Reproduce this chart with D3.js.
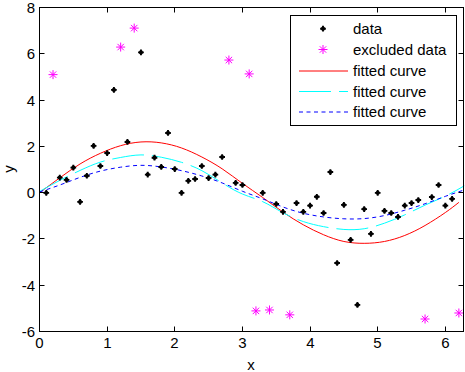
<!DOCTYPE html>
<html>
<head>
<meta charset="utf-8">
<script src="https://cdn.jsdelivr.net/npm/d3@7"></script>
<style>
  body { margin: 0; background: #fff; }
  text { font-family: "Liberation Sans", Arial, sans-serif; }
</style>
</head>
<body>
<script>
// data points that were used in the fit
let dataX = [0.1, 0.3, 0.4, 0.5, 0.6, 0.7, 0.8, 0.9, 1.0, 1.1, 1.3, 1.5, 1.6, 1.7, 1.8, 1.9, 2.0,
  2.1, 2.2, 2.3, 2.4, 2.5, 2.6, 2.7, 2.9, 3.0, 3.3, 3.5, 3.6, 3.8, 3.9, 4.0, 4.1, 4.2, 4.3,
  4.4, 4.5, 4.6, 4.7, 4.8, 4.9, 5.0, 5.1, 5.2, 5.3, 5.4, 5.5, 5.6, 5.8, 5.9, 6.0, 6.1];
let dataY = [-0.01, 0.65, 0.55, 1.08, -0.40, 0.73, 2.02, 1.15, 1.71, 4.44, 2.19, 6.06, 0.78, 1.51, 1.11, 2.58, 1.02,
  -0.01, 0.51, 0.59, 1.15, 0.63, 0.78, 1.54, 0.42, 0.33, -0.01, -0.49, -0.83, -0.45, -0.83, -0.56, -0.18, -0.88, 0.89,
  -3.04, -0.53, -2.04, -4.85, -0.71, -1.78, -0.01, -0.79, -0.88, -1.05, -0.56, -0.45, -0.32, -0.19, 0.33, -0.56, -0.27];

// outliers (excluded)
let exclX = [0.2, 1.2, 1.4, 2.8, 3.1, 3.2, 3.4, 3.7, 5.7, 6.2];
let exclY = [5.10, 6.29, 7.11, 5.73, 5.13, -5.11, -5.07, -5.28, -5.46, -5.20];

// fitted curves
let redX = [0, 0.3, 0.6, 0.9, 1.2, 1.5, 1.8, 2.1, 2.4, 2.7, 3.0, 3.3, 3.6, 3.9, 4.2, 4.5, 4.8, 5.1, 5.4, 5.7, 6.0, 6.2];
let redY = [0, 0.64, 1.24, 1.70, 2.03, 2.19, 2.15, 1.93, 1.54, 1.03, 0.40, -0.21, -0.84, -1.39, -1.82, -2.11, -2.19, -2.11, -1.85, -1.42, -0.86, -0.42];
let fitX = [0, 0.3, 0.6, 0.9, 1.2, 1.5, 1.8, 2.1, 2.4, 2.7, 3.0, 3.3, 3.6, 3.9, 4.2, 4.5, 4.8, 5.1, 5.4, 5.7, 6.0, 6.2832];
let cyanY = [0.05, 0.53, 0.96, 1.32, 1.52, 1.63, 1.53, 1.31, 0.95, 0.42, -0.06, -0.39, -0.87, -1.25, -1.47, -1.59, -1.56, -1.32, -0.96, -0.54, -0.15, 0.30];
let blueY = [0.03, 0.33, 0.66, 0.93, 1.10, 1.18, 1.11, 0.95, 0.72, 0.42, 0.06, -0.27, -0.62, -0.89, -1.05, -1.13, -1.12, -0.99, -0.76, -0.48, -0.16, 0.12];

let xTicks = [0, 1, 2, 3, 4, 5, 6];
let yTicks = [-6, -4, -2, 0, 2, 4, 6, 8];
let legendLabels = ["data", "excluded data", "fitted curve", "fitted curve", "fitted curve"];

let w = 465, h = 372;
let x0 = 39.5, x1 = 464.5, y0 = 7.5, y1 = 331.5;

let xScale = d3.scaleLinear().domain([0, 2 * Math.PI]).range([x0, x1]);
let yScale = d3.scaleLinear().domain([-6, 8]).range([y1, y0]);

let svg = d3.select("body").append("svg").attr("width", w).attr("height", h);

svg.append("defs").append("clipPath").attr("id", "clip")
  .append("rect").attr("x", x0).attr("y", y0).attr("width", x1 - x0).attr("height", y1 - y0);

// markers
function dotMark(g) {
  g.append("path").attr("d", d3.symbol().type(d3.symbolCross).size(18)).attr("fill", "black");
  g.append("circle").attr("r", 2.1).attr("fill", "black");
}
function starMark(g) {
  let r = 4.5, d = 3.2;
  g.append("path")
    .attr("d", `M${-r},0H${r}M0,${-r}V${r}M${-d},${-d}L${d},${d}M${-d},${d}L${d},${-d}`)
    .attr("stroke", "#ff00ff").attr("stroke-width", 1).attr("fill", "none");
}

// curves
let curves = [
  { xs: redX, ys: redY, color: "#ff0000", dash: null },
  { xs: fitX, ys: cyanY, color: "#00ffff", dash: "32,8" },
  { xs: fitX, ys: blueY, color: "#0000ff", dash: "4,3.5" }
];
let line = d3.line().x(d => xScale(d[0])).y(d => yScale(d[1])).curve(d3.curveNatural);

let plot = svg.append("g").attr("clip-path", "url(#clip)");
curves.forEach(function (c) {
  plot.append("path")
    .datum(c.xs.map((v, i) => [v, c.ys[i]]))
    .attr("d", line)
    .attr("fill", "none")
    .attr("stroke", c.color)
    .attr("stroke-width", 1)
    .attr("stroke-dasharray", c.dash);
});

dataX.forEach(function (v, i) {
  svg.append("g").attr("transform", `translate(${xScale(v)},${yScale(dataY[i])})`).call(dotMark);
});
exclX.forEach(function (v, i) {
  svg.append("g").attr("transform", `translate(${xScale(v)},${yScale(exclY[i])})`).call(starMark);
});

// axes box with inward ticks
svg.append("rect").attr("x", x0).attr("y", y0).attr("width", x1 - x0 - 1).attr("height", y1 - y0)
  .attr("fill", "none").attr("stroke", "black");

let tl = 5;
xTicks.forEach(function (t) {
  let px = Math.round(xScale(t) - 0.5) + 0.5;
  svg.append("line").attr("x1", px).attr("x2", px).attr("y1", y1).attr("y2", y1 - tl).attr("stroke", "black");
  svg.append("line").attr("x1", px).attr("x2", px).attr("y1", y0).attr("y2", y0 + tl).attr("stroke", "black");
  svg.append("text").text(t).attr("x", px).attr("y", 348).attr("text-anchor", "middle").attr("font-size", "15px");
});
yTicks.forEach(function (t) {
  let py = Math.round(yScale(t) - 0.5) + 0.5;
  svg.append("line").attr("x1", x0).attr("x2", x0 + tl).attr("y1", py).attr("y2", py).attr("stroke", "black");
  svg.append("line").attr("x1", x1 - 1).attr("x2", x1 - 1 - tl).attr("y1", py).attr("y2", py).attr("stroke", "black");
  svg.append("text").text(t).attr("x", 35).attr("y", py + 5.5).attr("text-anchor", "end").attr("font-size", "15px");
});

svg.append("text").text("x").attr("x", 251).attr("y", 370).attr("text-anchor", "middle").attr("font-size", "15px");
svg.append("text").text("y").attr("transform", "translate(14,169) rotate(-90)")
  .attr("text-anchor", "middle").attr("font-size", "15px");

// legend
let lg = svg.append("g");
lg.append("rect").attr("x", 290.5).attr("y", 15.5).attr("width", 166).attr("height", 110)
  .attr("fill", "white").attr("stroke", "black");
let rowY = [28.7, 49.5, 70.5, 91, 111.5];
legendLabels.forEach(function (lab, i) {
  let ry = rowY[i];
  if (i == 0) {
    lg.append("g").attr("transform", `translate(323,${ry})`).call(dotMark);
  } else if (i == 1) {
    lg.append("g").attr("transform", `translate(323,${ry})`).call(starMark);
  } else {
    let c = curves[i - 2];
    lg.append("line").attr("x1", 299).attr("x2", 348).attr("y1", ry + 0.5).attr("y2", ry + 0.5)
      .attr("stroke", c.color).attr("stroke-dasharray", c.dash);
  }
  lg.append("text").text(lab).attr("x", 353).attr("y", ry + 5.5).attr("font-size", "15px");
});
</script>
</body>
</html>
